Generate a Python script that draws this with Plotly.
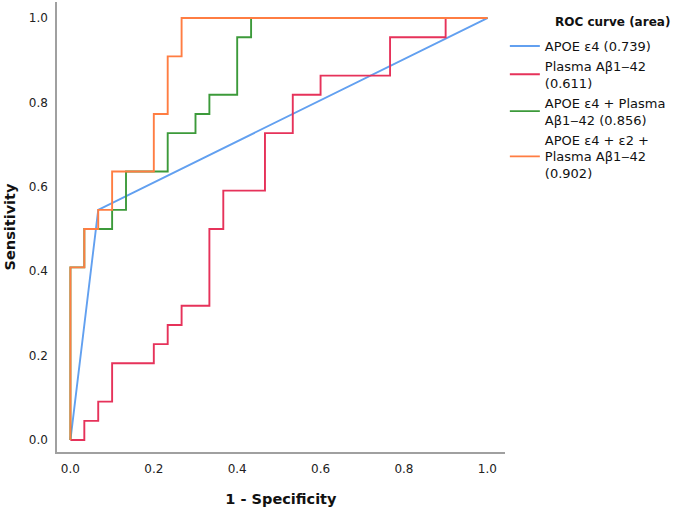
import plotly.graph_objects as go

# ROC data (1 - Specificity, Sensitivity); 30 negatives, 22 positives
n_neg = 30
n_pos = 22

apoe4_fpr = [0, 2, 30]
apoe4_tpr = [0, 12, 22]

plasma_fpr = [0, 1, 1, 2, 2, 3, 3, 6, 6, 7, 7, 8, 8, 10, 10, 11, 11, 14, 14, 16, 16, 18, 18, 23, 23, 27, 27, 30]
plasma_tpr = [0, 0, 1, 1, 2, 2, 4, 4, 5, 5, 6, 6, 7, 7, 11, 11, 13, 13, 16, 16, 18, 18, 19, 19, 21, 21, 22, 22]

combo_fpr = [0, 0, 1, 1, 3, 3, 4, 4, 7, 7, 9, 9, 10, 10, 12, 12, 13, 13, 30]
combo_tpr = [0, 9, 9, 11, 11, 12, 12, 14, 14, 16, 16, 17, 17, 18, 18, 21, 21, 22, 22]

combo2_fpr = [0, 0, 1, 1, 2, 2, 3, 3, 6, 6, 7, 7, 8, 8, 30]
combo2_tpr = [0, 9, 9, 11, 11, 12, 12, 14, 14, 17, 17, 20, 20, 22, 22]

names = ["APOE ε4 (0.739)", "Plasma Aβ1‒42<br>(0.611)",
         "APOE ε4 + Plasma<br>Aβ1‒42 (0.856)", "APOE ε4 + ε2 +<br>Plasma Aβ1‒42<br>(0.902)"]
colors = ["#62a0f0", "#e6325a", "#3c9a3a", "#ff7d42"]
legend_title = "ROC curve (area)"

series = [(apoe4_fpr, apoe4_tpr), (plasma_fpr, plasma_tpr),
          (combo_fpr, combo_tpr), (combo2_fpr, combo2_tpr)]

x_ticks = [0.0, 0.2, 0.4, 0.6, 0.8, 1.0]
y_ticks = [0.0, 0.2, 0.4, 0.6, 0.8, 1.0]

fig = go.Figure()
for (fx, ty), nm, c in zip(series, names, colors):
    fig.add_trace(go.Scatter(
        x=[v / n_neg for v in fx], y=[v / n_pos for v in ty],
        mode="lines", name=nm, line=dict(color=c, width=1.9)))

fig.add_annotation(text=f"<b>{legend_title}</b>", xref="paper", yref="paper",
                   x=1.1067, y=0.9556, xanchor="left", yanchor="middle",
                   showarrow=False, font=dict(size=12, color="#111"))

font = "DejaVu Sans"
fig.update_layout(
    width=685, height=508,
    margin=dict(l=57, r=178, t=2, b=56),
    paper_bgcolor="white", plot_bgcolor="white",
    font=dict(family=font, size=13, color="#222"),
    showlegend=True,
    legend=dict(xref="container", yref="container", x=0.737, y=0.939,
                xanchor="left", yanchor="top",
                font=dict(size=13, color="#111"),
                tracegroupgap=0, itemwidth=30, valign="middle"),
    xaxis=dict(range=[-0.0322, 1.042], tickvals=x_ticks,
               ticktext=[f"{v:.1f}" for v in x_ticks],
               showgrid=False, zeroline=False, showline=True,
               linecolor="#a0a0a0", linewidth=1.5, automargin=False,
               ticks="outside", ticklen=5, tickcolor="rgba(0,0,0,0)",
               tickfont=dict(size=12, color="#222"),
               title=dict(text="<b>1 - Specificity</b>", font=dict(size=14.5, color="#111"), standoff=19)),
    yaxis=dict(range=[-0.0284, 1.038], tickvals=y_ticks,
               ticktext=[f"{v:.1f}" for v in y_ticks],
               showgrid=False, zeroline=False, showline=True,
               linecolor="#a0a0a0", linewidth=1.5, automargin=False,
               ticks="outside", ticklen=5, tickcolor="rgba(0,0,0,0)",
               tickfont=dict(size=12, color="#222"),
               title=dict(text="<b>Sensitivity</b>", font=dict(size=14.5, color="#111"), standoff=10)),
)

fig.write_html("out.html", config={"displayModeBar": False},
               post_script="document.body.style.margin='0';document.body.style.overflow='hidden';")
